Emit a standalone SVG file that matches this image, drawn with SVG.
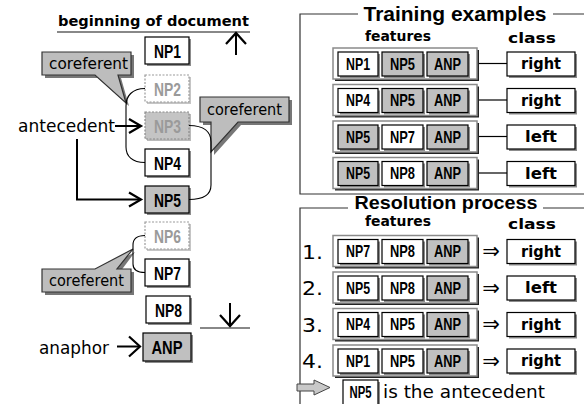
<svg xmlns="http://www.w3.org/2000/svg" width="584" height="404" viewBox="0 0 584 404">
<style>
.lbl{font-family:"Liberation Sans Narrow","Liberation Sans",Arial,sans-serif;font-weight:bold;text-anchor:middle}
.big{font-size:18.5px}
.sm{font-size:17px}
.sh{fill:#8c8c8c}
.bw{fill:#fff;stroke:#000;stroke-width:1.2}
.bg2{fill:#c0c0c0;stroke:#000;stroke-width:1.2}
.gh{fill:#fff;stroke:#9a9a9a;stroke-width:1.2;stroke-dasharray:2 1.5}
.ghg{fill:#c4c4c4;stroke:#8a8a8a;stroke-width:1.2;stroke-dasharray:2 1.5}
.tg{fill:#9a9a9a}
.reg{font-family:"DejaVu Sans",Verdana,sans-serif}
.bold{font-family:"DejaVu Sans",Verdana,sans-serif;font-weight:bold}
.call{fill:#bdbdbd;stroke:#333;stroke-width:1.2}
.callsh{fill:#777}
.br{fill:none;stroke:#000;stroke-width:1.1}
.arr{fill:none;stroke:#000;stroke-width:2}
.frame{fill:none;stroke:#333;stroke-width:1.2}
.rowsh{fill:#222}
.row{fill:#fff;stroke:#8a8a8a;stroke-width:1.5}
.cls{font-family:"DejaVu Sans",Verdana,sans-serif;font-weight:bold;font-size:15.5px;text-anchor:middle}
.imp{font-family:"DejaVu Sans",sans-serif;font-size:21px;text-anchor:middle}
</style>
<defs>
<marker id="chev" markerUnits="userSpaceOnUse" markerWidth="16" markerHeight="18" refX="12" refY="7.5" orient="auto" overflow="visible">
<path d="M0,0.5 L12,7.5 L0,14.5" fill="none" stroke="#000" stroke-width="2.2"/>
</marker>
<marker id="chevbig" markerUnits="userSpaceOnUse" markerWidth="14" markerHeight="24" refX="11" refY="10" orient="auto" overflow="visible">
<path d="M0,0 L11,10 L0,20" fill="none" stroke="#000" stroke-width="2.2"/>
</marker>
<g id="inner3">
<rect class="sh" x="340" y="6" width="40" height="24"/>
<rect class="sh" x="384" y="6" width="41" height="24"/>
<rect class="sh" x="429" y="6" width="41" height="24"/>
</g>
<g id="rowframe">
<rect class="rowsh" x="335" y="2" width="144" height="31"/>
<rect class="row" x="333" y="0" width="144" height="31"/>
</g>
<g id="clsbox">
<rect class="sh" x="509" y="6" width="68" height="24"/>
<rect class="bw" x="507" y="4" width="68" height="24"/>
</g>
</defs>

<g id="doc-start">
<text class="bold" x="58" y="26" font-size="14.5" textLength="191" lengthAdjust="spacingAndGlyphs">beginning of document</text>
<line x1="57" y1="32" x2="250" y2="32" stroke="#888" stroke-width="2"/>
</g>
<g id="doc-end">
<line x1="200" y1="328" x2="250" y2="328" stroke="#888" stroke-width="2"/>
</g>

<g id="np1"><rect class="sh" x="147" y="39" width="44" height="27"/><rect class="bw" x="145" y="37" width="44" height="27"/><text class="lbl big" x="167.5" y="58" textLength="27" lengthAdjust="spacingAndGlyphs">NP1</text></g>
<g id="np2"><rect class="sh" x="147" y="77" width="44" height="27" fill-opacity="0.5"/><rect class="gh" x="145" y="75" width="44" height="27"/><text class="lbl big tg" x="167.5" y="96" textLength="27" lengthAdjust="spacingAndGlyphs">NP2</text></g>
<g id="np3"><rect class="sh" x="147" y="114" width="44" height="27" fill-opacity="0.6"/><rect class="ghg" x="145" y="112" width="44" height="27"/><text class="lbl big tg" x="167.5" y="133" textLength="27" lengthAdjust="spacingAndGlyphs">NP3</text></g>
<g id="np4"><rect class="sh" x="147" y="151" width="44" height="27"/><rect class="bw" x="145" y="149" width="44" height="27"/><text class="lbl big" x="167.5" y="170" textLength="27" lengthAdjust="spacingAndGlyphs">NP4</text></g>
<g id="np5"><rect class="sh" x="147" y="188" width="44" height="27"/><rect class="bg2" x="145" y="186" width="44" height="27"/><text class="lbl big" x="167.5" y="207" textLength="27" lengthAdjust="spacingAndGlyphs">NP5</text></g>
<g id="np6"><rect class="sh" x="147" y="224" width="44" height="27" fill-opacity="0.5"/><rect class="gh" x="145" y="222" width="44" height="27"/><text class="lbl big tg" x="167.5" y="243" textLength="27" lengthAdjust="spacingAndGlyphs">NP6</text></g>
<g id="np7"><rect class="sh" x="147" y="261" width="44" height="27"/><rect class="bw" x="145" y="259" width="44" height="27"/><text class="lbl big" x="167.5" y="280" textLength="27" lengthAdjust="spacingAndGlyphs">NP7</text></g>
<g id="np8"><rect class="sh" x="148" y="298" width="44" height="27"/><rect class="bw" x="146" y="296" width="44" height="27"/><text class="lbl big" x="168.5" y="317" textLength="27" lengthAdjust="spacingAndGlyphs">NP8</text></g>
<g id="anp"><rect class="sh" x="145" y="335" width="48" height="28"/><rect class="bg2" x="143" y="333" width="48" height="28"/><text class="lbl big" x="167" y="354" textLength="31" lengthAdjust="spacingAndGlyphs">ANP</text></g>

<g id="label-antecedent"><text class="reg" x="18" y="132" font-size="17" textLength="97" lengthAdjust="spacingAndGlyphs">antecedent</text></g>
<g id="label-anaphor"><text class="reg" x="39" y="354" font-size="17" textLength="70" lengthAdjust="spacingAndGlyphs">anaphor</text></g>

<g id="callout1">
<path class="callsh" d="M45,55 H134 V78 H121 L129,106 L98,78 H45 Z"/>
<path class="call" d="M42,52 H131 V75 H118 L126,103 L95,75 H42 Z"/>
<text class="reg" x="49" y="69" font-size="15" textLength="79" lengthAdjust="spacingAndGlyphs">coreferent</text>
</g>
<g id="callout2">
<path class="callsh" d="M203,100 H292 V125 H241 L214,155 V125 H203 Z"/>
<path class="call" d="M200,97 H289 V122 H238 L211,152 V122 H200 Z"/>
<text class="reg" x="207" y="115" font-size="15" textLength="75" lengthAdjust="spacingAndGlyphs">coreferent</text>
</g>
<g id="callout3">
<path class="callsh" d="M45,272 H98 L135,252 L120,272 H134 V295 H45 Z"/>
<path class="call" d="M42,269 H95 L133,249 L117,269 H131 V292 H42 Z"/>
<text class="reg" x="49" y="286" font-size="15" textLength="75" lengthAdjust="spacingAndGlyphs">coreferent</text>
</g>

<g id="connectors">
<path class="br" d="M145,88.5 C132,88.5 126,96 126,106 V147 C126,156 132,162.5 145,162.5"/>
<path class="br" d="M189,125.5 C204,125.5 211,132 211,142 V185 C211,194 204,199.5 189,199.5"/>
<path class="br" d="M145,235.5 C137,235.5 133,239 133,245 V264 C133,269 137,272.5 145,272.5"/>
<line class="arr" x1="115" y1="126" x2="141" y2="126" marker-end="url(#chev)"/>
<path class="arr" d="M77,139 V199.5 H141" marker-end="url(#chev)"/>
<line class="arr" x1="117" y1="346.5" x2="140" y2="346.5" marker-end="url(#chevbig)"/>
<line class="arr" x1="236" y1="55" x2="236" y2="33" marker-end="url(#chevbig)"/>
<line class="arr" x1="230" y1="303" x2="230" y2="326" marker-end="url(#chevbig)"/>
</g>

<g id="training">
<path class="frame" d="M358,14 H300 V194 H584 M553,14 H584"/>
<text x="455" y="21" font-family="Liberation Sans,Arial,sans-serif" font-weight="bold" font-size="20.5" text-anchor="middle" textLength="183" lengthAdjust="spacingAndGlyphs">Training examples</text>
<text class="bold" x="365" y="40.5" font-size="14.5" textLength="66" lengthAdjust="spacingAndGlyphs">features</text>
<text class="bold" x="508" y="43" font-size="14.5" textLength="48" lengthAdjust="spacingAndGlyphs">class</text>
</g>

<g id="train-row1" transform="translate(0,48)">
<use href="#rowframe"/><use href="#inner3"/>
<rect class="bw" x="338" y="4" width="40" height="24"/><rect class="bg2" x="382" y="4" width="41" height="24"/><rect class="bg2" x="427" y="4" width="41" height="24"/>
<text class="lbl sm" x="358" y="21.5" textLength="24" lengthAdjust="spacingAndGlyphs">NP1</text>
<text class="lbl sm" x="402.5" y="21.5" textLength="25" lengthAdjust="spacingAndGlyphs">NP5</text>
<text class="lbl sm" x="447.5" y="21.5" textLength="27" lengthAdjust="spacingAndGlyphs">ANP</text>
<line x1="479" y1="15.5" x2="507" y2="15.5" stroke="#000" stroke-width="1.2"/>
<use href="#clsbox"/><text class="cls" x="541" y="21" textLength="40" lengthAdjust="spacingAndGlyphs">right</text>
</g>
<g id="train-row2" transform="translate(0,84.5)">
<use href="#rowframe"/><use href="#inner3"/>
<rect class="bw" x="338" y="4" width="40" height="24"/><rect class="bg2" x="382" y="4" width="41" height="24"/><rect class="bg2" x="427" y="4" width="41" height="24"/>
<text class="lbl sm" x="358" y="21.5" textLength="24" lengthAdjust="spacingAndGlyphs">NP4</text>
<text class="lbl sm" x="402.5" y="21.5" textLength="25" lengthAdjust="spacingAndGlyphs">NP5</text>
<text class="lbl sm" x="447.5" y="21.5" textLength="27" lengthAdjust="spacingAndGlyphs">ANP</text>
<line x1="479" y1="15.5" x2="507" y2="15.5" stroke="#000" stroke-width="1.2"/>
<use href="#clsbox"/><text class="cls" x="541" y="21" textLength="40" lengthAdjust="spacingAndGlyphs">right</text>
</g>
<g id="train-row3" transform="translate(0,121)">
<use href="#rowframe"/><use href="#inner3"/>
<rect class="bg2" x="338" y="4" width="40" height="24"/><rect class="bw" x="382" y="4" width="41" height="24"/><rect class="bg2" x="427" y="4" width="41" height="24"/>
<text class="lbl sm" x="358" y="21.5" textLength="24" lengthAdjust="spacingAndGlyphs">NP5</text>
<text class="lbl sm" x="402.5" y="21.5" textLength="25" lengthAdjust="spacingAndGlyphs">NP7</text>
<text class="lbl sm" x="447.5" y="21.5" textLength="27" lengthAdjust="spacingAndGlyphs">ANP</text>
<line x1="479" y1="15.5" x2="507" y2="15.5" stroke="#000" stroke-width="1.2"/>
<use href="#clsbox"/><text class="cls" x="541" y="21" textLength="32" lengthAdjust="spacingAndGlyphs">left</text>
</g>
<g id="train-row4" transform="translate(0,157.5)">
<use href="#rowframe"/><use href="#inner3"/>
<rect class="bg2" x="338" y="4" width="40" height="24"/><rect class="bw" x="382" y="4" width="41" height="24"/><rect class="bg2" x="427" y="4" width="41" height="24"/>
<text class="lbl sm" x="358" y="21.5" textLength="24" lengthAdjust="spacingAndGlyphs">NP5</text>
<text class="lbl sm" x="402.5" y="21.5" textLength="25" lengthAdjust="spacingAndGlyphs">NP8</text>
<text class="lbl sm" x="447.5" y="21.5" textLength="27" lengthAdjust="spacingAndGlyphs">ANP</text>
<line x1="479" y1="15.5" x2="507" y2="15.5" stroke="#000" stroke-width="1.2"/>
<use href="#clsbox"/><text class="cls" x="541" y="21" textLength="32" lengthAdjust="spacingAndGlyphs">left</text>
</g>

<g id="resolution">
<path class="frame" d="M348,208 H300 V404 M543,208 H584"/>
<text x="446" y="208.5" font-family="Liberation Sans,Arial,sans-serif" font-weight="bold" font-size="19" text-anchor="middle" textLength="183" lengthAdjust="spacingAndGlyphs">Resolution process</text>
<text class="bold" x="365" y="225.5" font-size="14" textLength="66" lengthAdjust="spacingAndGlyphs">features</text>
<text class="bold" x="508" y="229" font-size="14" textLength="48" lengthAdjust="spacingAndGlyphs">class</text>
</g>

<g id="res-row1" transform="translate(0,235.5)">
<text class="reg" x="302" y="23" font-size="19" textLength="21" lengthAdjust="spacingAndGlyphs">1.</text>
<use href="#rowframe"/><use href="#inner3"/>
<rect class="bw" x="338" y="4" width="40" height="24"/><rect class="bw" x="382" y="4" width="41" height="24"/><rect class="bg2" x="427" y="4" width="41" height="24"/>
<text class="lbl sm" x="358" y="21.5" textLength="24" lengthAdjust="spacingAndGlyphs">NP7</text>
<text class="lbl sm" x="402.5" y="21.5" textLength="25" lengthAdjust="spacingAndGlyphs">NP8</text>
<text class="lbl sm" x="447.5" y="21.5" textLength="27" lengthAdjust="spacingAndGlyphs">ANP</text>
<text class="imp" x="491" y="22.5">⇒</text>
<use href="#clsbox"/><text class="cls" x="541" y="21" textLength="40" lengthAdjust="spacingAndGlyphs">right</text>
</g>
<g id="res-row2" transform="translate(0,272)">
<text class="reg" x="302" y="23" font-size="19" textLength="21" lengthAdjust="spacingAndGlyphs">2.</text>
<use href="#rowframe"/><use href="#inner3"/>
<rect class="bw" x="338" y="4" width="40" height="24"/><rect class="bw" x="382" y="4" width="41" height="24"/><rect class="bg2" x="427" y="4" width="41" height="24"/>
<text class="lbl sm" x="358" y="21.5" textLength="24" lengthAdjust="spacingAndGlyphs">NP5</text>
<text class="lbl sm" x="402.5" y="21.5" textLength="25" lengthAdjust="spacingAndGlyphs">NP8</text>
<text class="lbl sm" x="447.5" y="21.5" textLength="27" lengthAdjust="spacingAndGlyphs">ANP</text>
<text class="imp" x="491" y="22.5">⇒</text>
<use href="#clsbox"/><text class="cls" x="541" y="21" textLength="32" lengthAdjust="spacingAndGlyphs">left</text>
</g>
<g id="res-row3" transform="translate(0,308.5)">
<text class="reg" x="302" y="23" font-size="19" textLength="21" lengthAdjust="spacingAndGlyphs">3.</text>
<use href="#rowframe"/><use href="#inner3"/>
<rect class="bw" x="338" y="4" width="40" height="24"/><rect class="bw" x="382" y="4" width="41" height="24"/><rect class="bg2" x="427" y="4" width="41" height="24"/>
<text class="lbl sm" x="358" y="21.5" textLength="24" lengthAdjust="spacingAndGlyphs">NP4</text>
<text class="lbl sm" x="402.5" y="21.5" textLength="25" lengthAdjust="spacingAndGlyphs">NP5</text>
<text class="lbl sm" x="447.5" y="21.5" textLength="27" lengthAdjust="spacingAndGlyphs">ANP</text>
<text class="imp" x="491" y="22.5">⇒</text>
<use href="#clsbox"/><text class="cls" x="541" y="21" textLength="40" lengthAdjust="spacingAndGlyphs">right</text>
</g>
<g id="res-row4" transform="translate(0,345)">
<text class="reg" x="302" y="23" font-size="19" textLength="21" lengthAdjust="spacingAndGlyphs">4.</text>
<use href="#rowframe"/><use href="#inner3"/>
<rect class="bw" x="338" y="4" width="40" height="24"/><rect class="bw" x="382" y="4" width="41" height="24"/><rect class="bg2" x="427" y="4" width="41" height="24"/>
<text class="lbl sm" x="358" y="21.5" textLength="24" lengthAdjust="spacingAndGlyphs">NP1</text>
<text class="lbl sm" x="402.5" y="21.5" textLength="25" lengthAdjust="spacingAndGlyphs">NP5</text>
<text class="lbl sm" x="447.5" y="21.5" textLength="27" lengthAdjust="spacingAndGlyphs">ANP</text>
<text class="imp" x="491" y="22.5">⇒</text>
<use href="#clsbox"/><text class="cls" x="541" y="21" textLength="40" lengthAdjust="spacingAndGlyphs">right</text>
</g>

<g id="result">
<path d="M297,384 H314 V380 L330,387.5 L314,395 V391 H297 Z" fill="#c8c8c8" stroke="#444" stroke-width="1"/>
<rect class="sh" x="345" y="382" width="35" height="26"/>
<rect class="bw" x="343" y="380" width="35" height="26"/>
<text class="lbl" x="360.5" y="398" font-size="16" textLength="22" lengthAdjust="spacingAndGlyphs">NP5</text>
<text class="reg" x="383" y="398" font-size="18.5" textLength="162" lengthAdjust="spacingAndGlyphs">is the antecedent</text>
</g>
</svg>
